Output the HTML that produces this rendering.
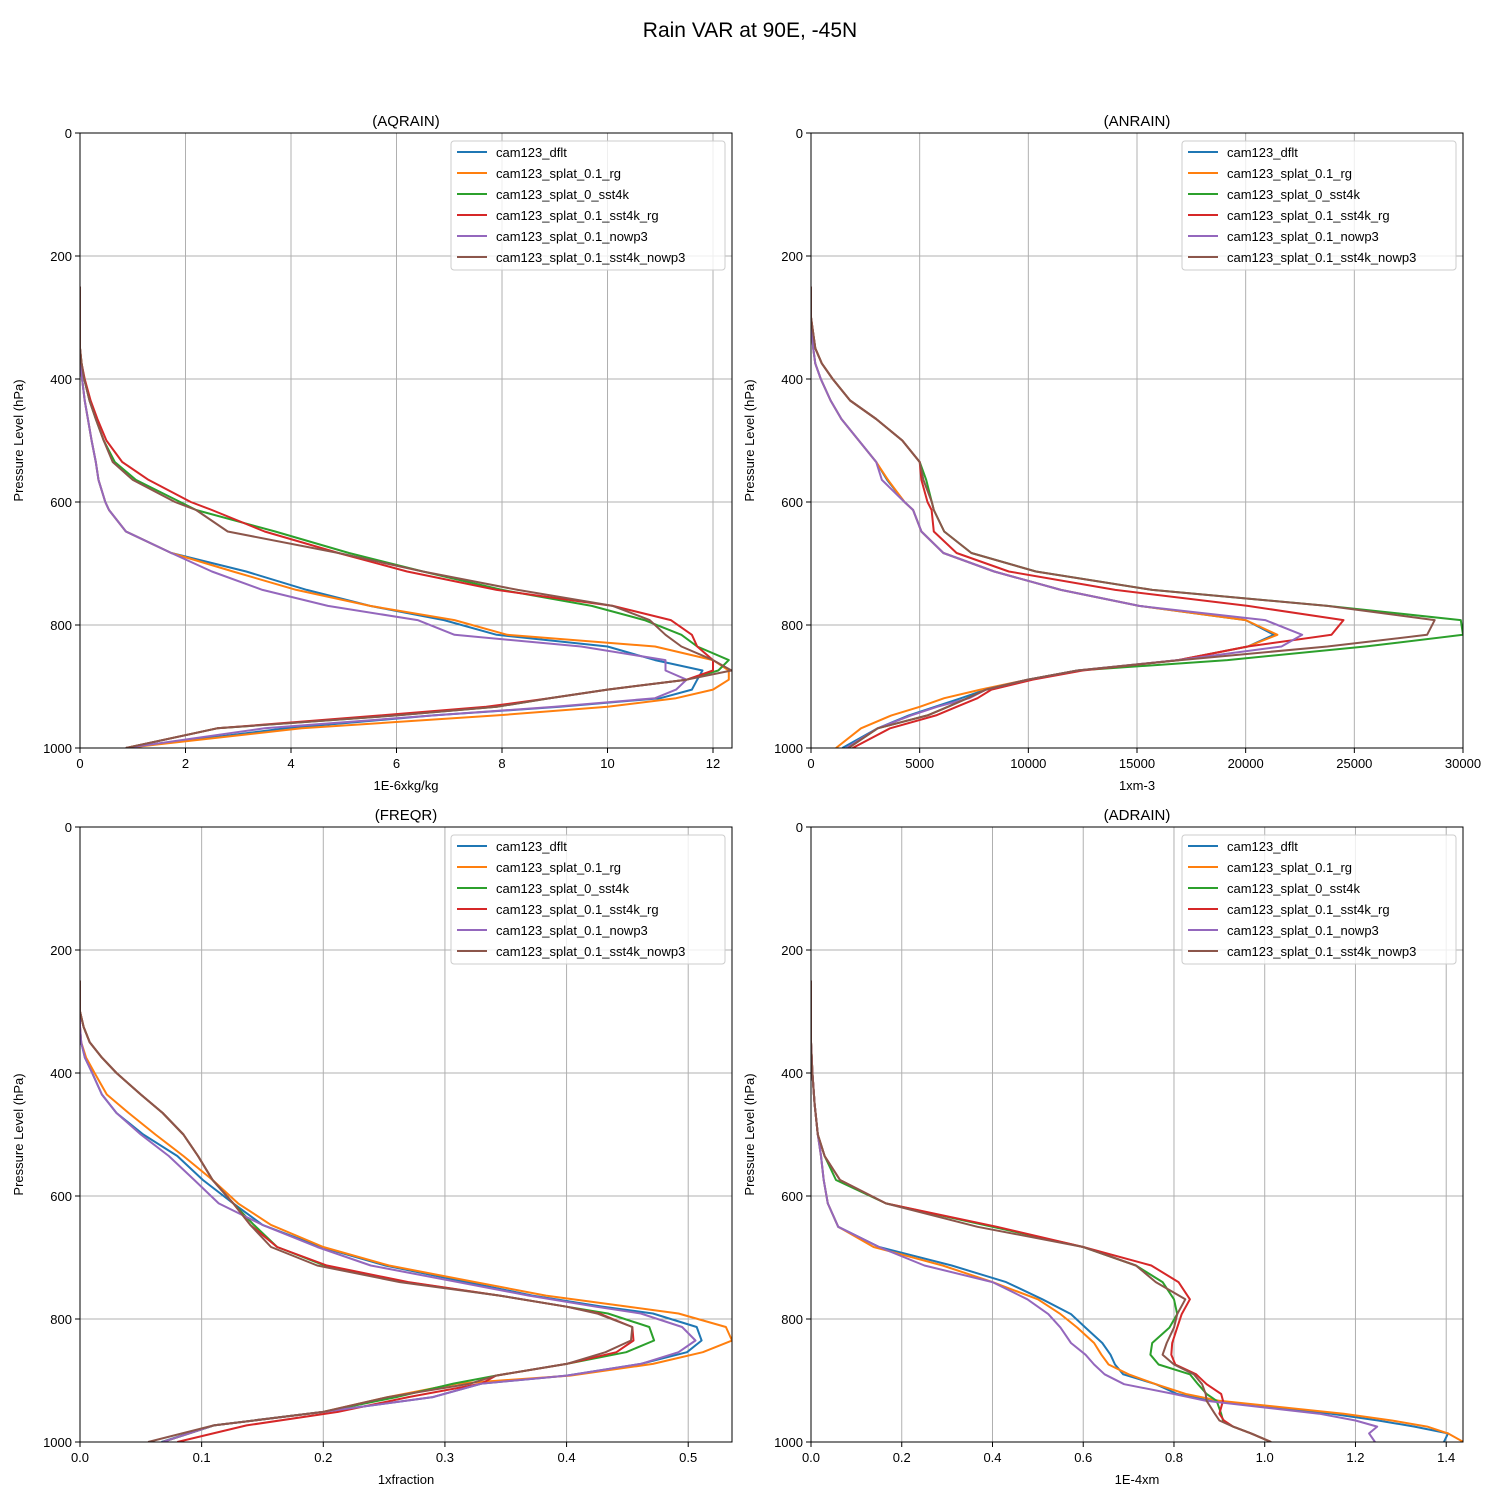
<!DOCTYPE html>
<html><head><meta charset="utf-8"><style>
body{margin:0;background:#fff}
svg text{font-family:"Liberation Sans","DejaVu Sans",sans-serif}
</style></head><body>
<svg id="fig" width="1500" height="1500" viewBox="0 0 1500 1500" xmlns="http://www.w3.org/2000/svg">
<rect width="1500" height="1500" fill="#fff"/>
<text x="750" y="37" font-size="21" text-anchor="middle">Rain VAR at 90E, -45N</text>
</svg>
<script>
const seriesNames = ["cam123_dflt","cam123_splat_0.1_rg","cam123_splat_0_sst4k","cam123_splat_0.1_sst4k_rg","cam123_splat_0.1_nowp3","cam123_splat_0.1_sst4k_nowp3"];
const colors = ["#1f77b4","#ff7f0e","#2ca02c","#d62728","#9467bd","#8c564b"];

// AQRAIN
const aqLevels = [250,300,350,375,400,435,465,500,535,564,600,613,648,683,713,743,769,792,816,835,857,874,889,905,919,933,947,968,1000];
const aqBlue   = [0,0,0,0.01,0.04,0.09,0.15,0.22,0.3,0.35,0.48,0.55,0.87,1.73,3.15,4.3,5.5,6.9,7.9,10.0,10.9,11.8,11.7,11.6,11.0,9.1,6.7,3.9,0.87];
const aqOrange = [0,0,0,0.01,0.04,0.09,0.15,0.22,0.3,0.35,0.48,0.55,0.87,1.73,2.9,4.1,5.5,7.1,8.1,10.9,12.0,12.3,12.3,12.0,11.3,10.0,7.9,4.2,0.87];
const aqGreen  = [0,0,0,0.03,0.08,0.18,0.3,0.45,0.66,1.06,1.9,2.2,3.7,5.1,6.5,8.0,9.7,10.7,11.4,11.7,12.3,12.1,11.5,10.0,8.9,7.9,6.0,2.6,0.87];
const aqRed    = [0,0,0,0.03,0.09,0.2,0.33,0.5,0.8,1.3,2.1,2.5,3.5,4.9,6.2,7.9,10.1,11.2,11.6,11.7,12.0,12.0,11.5,10.0,8.9,7.7,5.7,2.6,0.87];
const aqPurple = [0,0,0,0.01,0.04,0.09,0.15,0.22,0.3,0.35,0.48,0.55,0.87,1.73,2.5,3.46,4.7,6.4,7.1,9.5,11.1,11.1,11.5,11.3,10.9,9.0,6.7,3.5,0.87];
const aqBrown  = [0,0,0,0.03,0.08,0.18,0.3,0.45,0.62,1.0,1.8,2.2,2.8,4.9,6.5,8.3,10.1,10.8,11.1,11.4,12.0,12.35,11.5,10.0,8.9,7.9,6.0,2.6,0.87];
const aqTicks = [0,2,4,6,8,10,12];

// ANRAIN
const anLevels = aqLevels;
const anBlue   = [0,0,100,200,450,900,1400,2200,3000,3500,4300,4700,5080,6090,8430,11500,15100,20000,21300,20100,16900,12260,9960,8050,6900,5700,4500,3070,1440];
const anOrange = [0,0,100,200,450,900,1400,2200,3000,3545,4300,4700,5080,6090,8430,11500,15100,20000,21460,20100,16900,12260,9960,7800,6130,5000,3700,2300,1150];
const anGreen  = [0,0,200,500,1000,1800,3000,4200,5000,5300,5560,5650,6130,7380,10350,15700,23760,29900,30000,25500,19160,12260,9960,8050,7200,6300,5360,3070,1720];
const anRed    = [0,0,200,500,1000,1800,3000,4200,5000,5080,5360,5550,5650,6700,9100,14000,20100,24500,23950,20100,16900,12500,10200,8300,7660,6700,5750,3640,1916];
const anPurple = [0,0,100,200,450,900,1400,2200,3000,3260,4300,4700,5080,6090,8430,11500,15100,20900,22600,21650,16900,12260,9960,8050,7280,5800,4600,3070,1630];
const anBrown  = [0,0,200,500,1000,1800,3000,4200,5000,5170,5560,5650,6130,7380,10350,15700,23760,28700,28350,23760,17000,12260,9960,8050,7200,6300,5360,3070,1720];
const anTicks = [0,5000,10000,15000,20000,25000,30000];

// FREQR
const frLevels = [250,300,325,350,375,400,435,465,500,535,574,612,647,683,713,740,762,780,791,813,835,854,873,892,905,927,951,973,1000];
const frBlue   = [0,0,0,0.001,0.004,0.01,0.018,0.03,0.052,0.08,0.101,0.126,0.150,0.198,0.251,0.318,0.372,0.43,0.471,0.507,0.511,0.499,0.461,0.4,0.33,0.29,0.2,0.11,0.067];
const frOrange = [0,0,0,0.001,0.005,0.012,0.022,0.04,0.062,0.085,0.109,0.13,0.157,0.2,0.254,0.325,0.383,0.451,0.492,0.531,0.536,0.512,0.471,0.403,0.31,0.253,0.2,0.11,0.068];
const frGreen  = [0,0,0.003,0.008,0.018,0.03,0.05,0.068,0.085,0.097,0.109,0.126,0.143,0.162,0.201,0.268,0.345,0.4,0.434,0.468,0.472,0.449,0.4,0.342,0.307,0.26,0.2,0.11,0.068];
const frRed    = [0,0,0.003,0.008,0.018,0.03,0.05,0.068,0.085,0.097,0.109,0.126,0.14,0.162,0.203,0.27,0.345,0.4,0.427,0.454,0.455,0.441,0.4,0.342,0.33,0.27,0.212,0.137,0.08];
const frPurple = [0,0,0,0.001,0.004,0.01,0.018,0.03,0.05,0.073,0.094,0.114,0.150,0.195,0.239,0.311,0.369,0.424,0.461,0.495,0.506,0.492,0.461,0.4,0.33,0.29,0.2,0.11,0.068];
const frBrown  = [0,0,0.003,0.008,0.018,0.03,0.05,0.068,0.085,0.097,0.109,0.126,0.14,0.157,0.195,0.263,0.345,0.4,0.425,0.454,0.453,0.432,0.4,0.342,0.321,0.253,0.2,0.11,0.056];
const frTicks = [0,0.1,0.2,0.3,0.4,0.5];

// ADRAIN
const adLevels = [250,300,350,400,450,500,535,574,612,650,683,713,740,768,792,814,839,858,874,890,906,922,933,954,965,975,986,1000];
const adBlue   = [0,0,0,0.003,0.008,0.015,0.022,0.028,0.037,0.06,0.15,0.31,0.43,0.51,0.573,0.605,0.642,0.66,0.67,0.688,0.76,0.807,0.88,1.147,1.25,1.33,1.404,1.395];
const adOrange = [0,0,0,0.003,0.008,0.015,0.022,0.028,0.037,0.06,0.138,0.29,0.40,0.50,0.55,0.587,0.624,0.64,0.656,0.7,0.76,0.826,0.9,1.174,1.28,1.358,1.404,1.438];
const adGreen  = [0,0,0,0.003,0.008,0.015,0.03,0.055,0.165,0.4,0.6,0.716,0.775,0.8,0.807,0.79,0.752,0.748,0.766,0.835,0.853,0.872,0.894,0.904,0.908,0.93,0.97,1.014];
const adRed    = [0,0,0,0.003,0.008,0.015,0.03,0.064,0.165,0.41,0.6,0.75,0.81,0.835,0.817,0.807,0.796,0.794,0.803,0.849,0.872,0.904,0.908,0.9,0.91,0.93,0.97,1.014];
const adPurple = [0,0,0,0.003,0.008,0.015,0.022,0.028,0.037,0.06,0.15,0.25,0.40,0.477,0.523,0.55,0.573,0.605,0.624,0.647,0.69,0.8,0.87,1.12,1.2,1.248,1.23,1.243];
const adBrown  = [0,0,0,0.003,0.008,0.015,0.03,0.064,0.165,0.367,0.6,0.716,0.76,0.825,0.807,0.8,0.784,0.775,0.8,0.844,0.862,0.87,0.872,0.89,0.9,0.93,0.97,1.014];
const adTicks = [0,0.2,0.4,0.6,0.8,1.0,1.2,1.4];

const yTicks = [0,200,400,600,800,1000];

const panels = [
 {name:"aqrain",title:"(AQRAIN)",xl:"1E-6xkg/kg",x0:80,y0:133,xmax:12.36,lev:aqLevels,s:[aqBlue,aqOrange,aqGreen,aqRed,aqPurple,aqBrown],ticks:aqTicks,fmt:v=>String(v)},
 {name:"anrain",title:"(ANRAIN)",xl:"1xm-3",x0:811,y0:133,xmax:30000,lev:anLevels,s:[anBlue,anOrange,anGreen,anRed,anPurple,anBrown],ticks:anTicks,fmt:v=>String(v)},
 {name:"freqr",title:"(FREQR)",xl:"1xfraction",x0:80,y0:827,xmax:0.536,lev:frLevels,s:[frBlue,frOrange,frGreen,frRed,frPurple,frBrown],ticks:frTicks,fmt:v=>v.toFixed(1)},
 {name:"adrain",title:"(ADRAIN)",xl:"1E-4xm",x0:811,y0:827,xmax:1.437,lev:adLevels,s:[adBlue,adOrange,adGreen,adRed,adPurple,adBrown],ticks:adTicks,fmt:v=>v.toFixed(1)}
];
const W=652,H=615;
const NS="http://www.w3.org/2000/svg";
const svg=document.getElementById("fig");
function mk(tag,attrs,parent){const e=document.createElementNS(NS,tag);for(const k in attrs)e.setAttribute(k,attrs[k]);(parent||svg).appendChild(e);return e;}

panels.forEach(p=>{
  const g=mk("g",{});
  
  
  const xs=v=>p.x0+v/p.xmax*W;
  const ys=v=>p.y0+v/1000*H;
  p.ticks.forEach(t=>{
    const l=mk("line",{x1:xs(t),x2:xs(t),y1:p.y0,y2:p.y0+H,stroke:"#b0b0b0","stroke-width":1},g);
    
    
    mk("line",{x1:xs(t),x2:xs(t),y1:p.y0+H,y2:p.y0+H+5,stroke:"#000","stroke-width":1},g);
    const tx=mk("text",{x:xs(t),y:p.y0+H+20,"font-size":13,"text-anchor":"middle"},g);
    tx.textContent=p.fmt(t);
    
    
  });
  yTicks.forEach(t=>{
    const l=mk("line",{x1:p.x0,x2:p.x0+W,y1:ys(t),y2:ys(t),stroke:"#b0b0b0","stroke-width":1},g);
    
    
    mk("line",{x1:p.x0-5,x2:p.x0,y1:ys(t),y2:ys(t),stroke:"#000","stroke-width":1},g);
    const tx=mk("text",{x:p.x0-8,y:ys(t)+5,"font-size":13,"text-anchor":"end"},g);
    tx.textContent=String(t);
    
    
  });
  const cp=mk("clipPath",{id:"clip-"+p.name},g);
  mk("rect",{x:p.x0,y:p.y0,width:W,height:H},cp);
  p.s.forEach((arr,i)=>{
    const pts=arr.map((v,j)=>xs(v).toFixed(1)+","+ys(p.lev[j]).toFixed(1)).join(" ");
    const pl=mk("polyline",{points:pts,fill:"none",stroke:colors[i],"stroke-width":2,"stroke-linejoin":"round","clip-path":"url(#clip-"+p.name+")"},g);
    
    
  });
  const fr=mk("rect",{x:p.x0,y:p.y0,width:W,height:H,fill:"none",stroke:"#000","stroke-width":1},g);
  
  
  const tt=mk("text",{x:p.x0+W/2,y:p.y0-7,"font-size":15,"text-anchor":"middle"},g);
  tt.textContent=p.title;
  
  
  const xl=mk("text",{x:p.x0+W/2,y:p.y0+H+42,"font-size":13,"text-anchor":"middle"},g);
  xl.textContent=p.xl;
  
  
  const yl=mk("text",{x:0,y:0,"font-size":13,"text-anchor":"middle",transform:"translate("+(p.x0-57)+","+(p.y0+H/2)+") rotate(-90)"},g);
  yl.textContent="Pressure Level (hPa)";
  
  
  const lg=mk("g",{},g);
  
  
  const lx=p.x0+W-281, ly=p.y0+8;
  mk("rect",{x:lx,y:ly,width:274,height:129,rx:3,fill:"#fff","fill-opacity":0.8,stroke:"#cccccc","stroke-width":1},lg);
  seriesNames.forEach((n,i)=>{
    const yy=ly+11+i*21;
    const e=mk("g",{},lg);
    
    
    mk("line",{x1:lx+6,x2:lx+36,y1:yy,y2:yy,stroke:colors[i],"stroke-width":2},e);
    const t=mk("text",{x:lx+45,y:yy+5,"font-size":13},e);
    t.textContent=n;
  });
});
</script>
</body></html>
